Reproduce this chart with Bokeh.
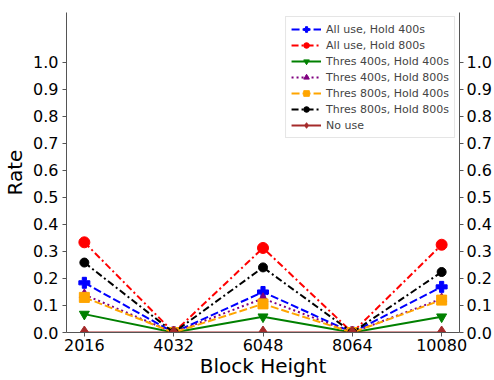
from bokeh.plotting import figure
from bokeh.models import (LinearAxis, FixedTicker, Range1d, Legend, LegendItem,
                          CustomJSTickFormatter)
from bokeh.embed import file_html
from bokeh.resources import INLINE

# Block heights on the x axis
heights = [2016, 4032, 6048, 8064, 10080]

# Rate per strategy at each block height
all_hold400 = [0.184, 0.0, 0.150, 0.0, 0.169]
all_hold800 = [0.334, 0.0, 0.313, 0.0, 0.325]
thr400_hold400 = [0.068, 0.0, 0.058, 0.0, 0.058]
thr400_hold800 = [0.140, 0.0, 0.126, 0.0, 0.125]
thr800_hold400 = [0.130, 0.0, 0.106, 0.0, 0.120]
thr800_hold800 = [0.259, 0.0, 0.241, 0.0, 0.224]
no_use = [0.0, 0.0, 0.0, 0.0, 0.0]

y_ticks = [0.0, 0.1, 0.2, 0.3, 0.4, 0.5, 0.6, 0.7, 0.8, 0.9, 1.0]

FONT = "DejaVu Sans"

p = figure(width=494, height=380, output_backend="svg", toolbar_location=None,
           x_range=Range1d(1613, 10483), y_range=Range1d(0, 1.185),
           min_border_left=10, min_border_right=4, min_border_top=12,
           min_border_bottom=4)
p.outline_line_color = None
p.xgrid.visible = False
p.ygrid.visible = False
p.background_fill_color = "white"
p.border_fill_color = "white"

series = [
    ("All use, Hold 400s", all_hold400, "#0000ff", "8 3", "plus", 11),
    ("All use, Hold 800s", all_hold800, "#ff0000", "7 3 2 3", "circle", 11),
    ("Thres 400s, Hold 400s", thr400_hold400, "#008000", "solid", "inverted_triangle", 10),
    ("Thres 400s, Hold 800s", thr400_hold800, "#800080", "2 3", "triangle", 10),
    ("Thres 800s, Hold 400s", thr800_hold400, "#ffa500", "8 3", "square", 10),
    ("Thres 800s, Hold 800s", thr800_hold800, "#000000", "7 3 2 3", "circle", 9),
    ("No use", no_use, "#a52a2a", "solid", "diamond", 13),
]

items = []
for label, ys, color, dash, marker, size in series:
    ln = p.line(heights, ys, line_color=color, line_width=2, line_dash=dash)
    mk = p.scatter(heights, ys, marker=marker, size=size, fill_color=color,
                   line_color=color)
    items.append(LegendItem(label=label, renderers=[ln, mk]))

legend = Legend(items=items, location="top_right",
                label_text_font=FONT, label_text_font_size="11px",
                glyph_width=30, glyph_height=14, spacing=2, padding=5,
                margin=4, label_standoff=5, label_height=14,
                border_line_color="#cccccc", border_line_width=1,
                background_fill_alpha=0.9)
p.add_layout(legend, "center")

def style_axis(ax):
    ax.axis_line_color = "#555555"
    ax.major_tick_line_color = "#555555"
    ax.major_tick_out = 4
    ax.major_tick_in = 0
    ax.minor_tick_line_color = None
    ax.major_label_text_font = FONT
    ax.major_label_text_font_size = "16px"
    ax.major_label_text_color = "black"
    ax.axis_label_text_font = FONT
    ax.axis_label_text_font_size = "20px"
    ax.axis_label_text_font_style = "normal"
    ax.axis_label_text_color = "black"

xa = p.xaxis[0]
xa.ticker = FixedTicker(ticks=heights)
xa.axis_label = "Block Height"
style_axis(xa)
xa.major_label_standoff = 2
xa.axis_label_standoff = 0

ya = p.yaxis[0]
ya.ticker = FixedTicker(ticks=y_ticks)
ya.axis_label = "Rate"
ya.axis_label_standoff = 3
style_axis(ya)
ya.major_label_standoff = 4
ya.formatter = CustomJSTickFormatter(code="return tick.toFixed(1);")

ra = LinearAxis(ticker=FixedTicker(ticks=y_ticks))
style_axis(ra)
ra.major_label_standoff = 3
ra.formatter = CustomJSTickFormatter(code="return tick.toFixed(1);")
p.add_layout(ra, "right")

open("out.html", "w").write(file_html(p, INLINE))
